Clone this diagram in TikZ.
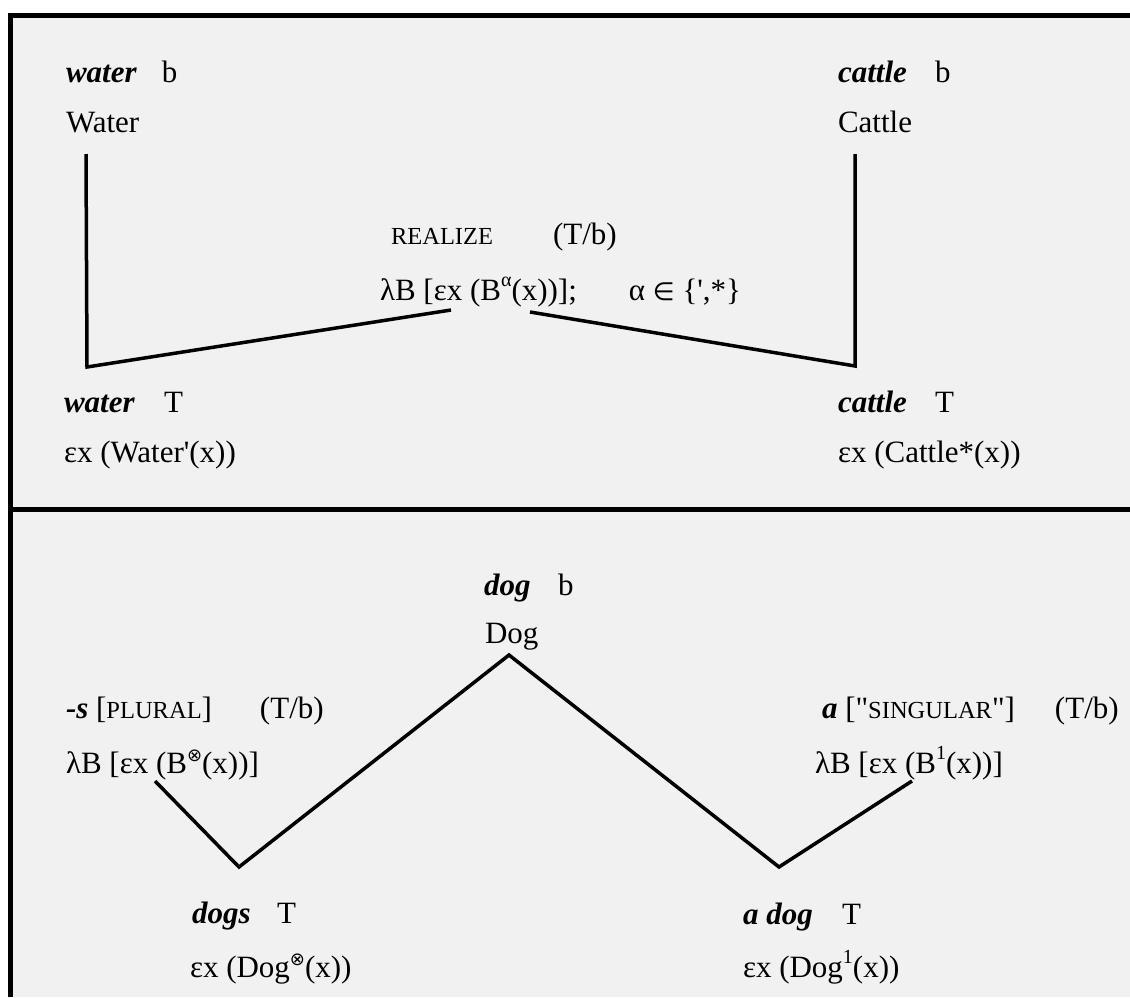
\documentclass[tikz,border=0pt]{standalone}
\usepackage{fontspec}
\newfontfamily\tms{Liberation Serif}
\newfontfamily\dvs{DejaVu Sans}
\newcommand\bfit[1]{{\bfseries\itshape #1}}
\newcommand\smc[1]{{\fontsize{24.5}{24.5}\selectfont #1}}
\newcommand\spr[1]{\raisebox{0.42em}{\fontsize{20}{20}\selectfont #1}}
\newcommand\otimesup{\raisebox{12pt}{\dvs\fontsize{18}{18}\selectfont ⊗}}
\newcommand\elem{{\dvs\fontsize{25}{25}\selectfont ∈}}
\newcommand\tabto[2]{\makebox[#1][l]{#2}}
\definecolor{panel}{HTML}{F1F1F1}
\begin{document}
\begin{tikzpicture}[x=1pt,y=-1pt,
  every node/.style={inner sep=0pt, outer sep=0pt, anchor=base west, font=\tms\fontsize{31}{31}\selectfont},
  conn/.style={line width=3.5pt, line join=miter},
  frame/.style={line width=5pt, line join=miter}]
\useasboundingbox (0,0) rectangle (1130,997);
\fill[white] (0,0) rectangle (1130,997);
\fill[panel] (10,15) rectangle (1130,997);
\draw[frame] (1130,15) -- (10,15) -- (10,997);
\draw[frame] (10,509) -- (1130,509);

% top panel
\node (wb)  at (66,82)  {\tabto{96pt}{\bfit{water}}b};
\node (wB)  at (66,132) {Water};
\node (cb)  at (838,82) {\tabto{97pt}{\bfit{cattle}}b};
\node (cB)  at (838,132) {Cattle};
\node (rz)  at (391,244) {\tabto{162pt}{\smc{REALIZE}}(T/b)};
\node (rl)  at (380,300) {\tabto{249pt}{λB [εx (B\spr{α}(x))];}α \elem\ \{',*\}};
\node (wT)  at (64,412) {\tabto{100pt}{\bfit{water}}T};
\node (we)  at (64,462) {εx (Water'(x))};
\node (cT)  at (838,412) {\tabto{97pt}{\bfit{cattle}}T};
\node (ce)  at (838,462) {εx (Cattle*(x))};

\coordinate (w1) at (86,154);
\coordinate (w2) at (87,367);
\coordinate (r1) at (451,310);
\coordinate (r2) at (530,312);
\coordinate (c2) at (855,366);
\coordinate (c1) at (855,154);
\draw[conn] (w1) -- (w2) -- (r1);
\draw[conn] (r2) -- (c2) -- (c1);

% bottom panel
\node (db)  at (484,595) {\tabto{74pt}{\bfit{dog}}b};
\node (dB)  at (485,643) {Dog};
\node (pl)  at (66,718) {\tabto{194pt}{\bfit{-s} [\smc{PLURAL}]}(T/b)};
\node (plf) at (66,773) {λB [εx (B\otimesup(x))]};
\node (sg)  at (822,718) {\tabto{233pt}{\bfit{a} ["\smc{SINGULAR}"]}(T/b)};
\node (sgf) at (815,773) {λB [εx (B\spr{1}(x))]};
\node (ds)  at (192,923) {\tabto{85pt}{\bfit{dogs}}T};
\node (dsf) at (190,977) {εx (Dog\otimesup(x))};
\node (ad)  at (743,924) {\tabto{99pt}{\bfit{a dog}}T};
\node (adf) at (743,977) {εx (Dog\spr{1}(x))};

\coordinate (p1) at (155,781);
\coordinate (v1) at (239,867);
\coordinate (ap) at (509,655);
\coordinate (v2) at (779,867);
\coordinate (p2) at (912,781);
\draw[conn] (p1) -- (v1) -- (ap) -- (v2) -- (p2);
\end{tikzpicture}
\end{document}
